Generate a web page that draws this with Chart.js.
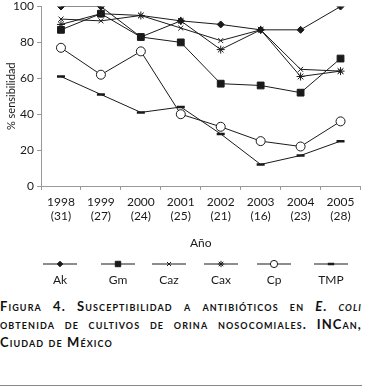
<!DOCTYPE html>
<html lang="es">
<head>
<meta charset="utf-8">
<title>Susceptibilidad a antibióticos en E. coli</title>
<script src="https://cdn.jsdelivr.net/npm/chart.js@4.4.0/dist/chart.umd.min.js"></script>
<style>
    body { margin: 0; background: #fff; width: 367px; height: 391px; position: relative; overflow: hidden; }
    #wrap { position: absolute; left: 0; top: 0; width: 367px; height: 295px; }
    #caption {
        position: absolute; left: 0; top: 297px; width: 362px;
        font-family: Lato, "Open Sans", sans-serif; font-weight: bold; font-size: 13px;
        font-variant: small-caps; line-height: 18px; color: #111;
        text-align: justify; letter-spacing: 1.1px;
    }
    #rule { position: absolute; left: 0; top: 385px; width: 362px; height: 1px; background: #888; }
</style>
</head>
<body>
<div id="wrap"><canvas id="sensibilidad_chart" width="367" height="295"></canvas></div>
<div id="caption">Figura 4. Susceptibilidad a antibióticos en <i>E. coli</i> obtenida de cultivos de orina nosocomiales. INCan, Ciudad de México</div>
<div id="rule"></div>
<script>
// años y número de cultivos por año
const years = ['1998', '1999', '2000', '2001', '2002', '2003', '2004', '2005'];
const cultivos = ['(31)', '(27)', '(24)', '(25)', '(21)', '(16)', '(23)', '(28)'];

// % de sensibilidad por antibiótico
const ak  = [100, 100, 83, 92, 90, 87, 87, 100];
const gm  = [87, 96, 83, 80, 57, 56, 52, 71];
const caz = [93, 92, 95, 88, 81, 87, 65, 64];
const cax = [90, 96, 95, 92, 76, 87, 61, 64];
const cp  = [77, 62, 75, 40, 33, 25, 22, 36];
const tmp = [61, 51, 41, 44, 29, 12, 17, 25];

const yTicks = [0, 20, 40, 60, 80, 100];
const legendX = [60, 118, 169, 221, 274, 331];

document.addEventListener('DOMContentLoaded', function () {
    const ctx = document.getElementById('sensibilidad_chart').getContext('2d');
    const ink = '#1a1a1a';
    const font = 'Lato, "Open Sans", sans-serif';

    function serie(label, data, style, radius, extra) {
        return Object.assign({
            label: label,
            data: data,
            borderColor: ink,
            backgroundColor: ink,
            borderWidth: 1,
            pointStyle: style,
            pointRadius: radius,
            pointBorderColor: ink,
            pointBackgroundColor: ink,
            pointBorderWidth: 1,
            tension: 0
        }, extra || {});
    }

    // leyenda propia: línea con el marcador al centro y el nombre debajo
    const lineLegend = {
        id: 'lineLegend',
        afterDraw(chart) {
            const c = chart.ctx;
            const y = 264;
            chart.data.datasets.forEach(function (ds, i) {
                const cx = legendX[i];
                c.save();
                c.strokeStyle = ink;
                c.lineWidth = 1.2;
                c.beginPath();
                c.moveTo(cx - 17, y);
                c.lineTo(cx + 17, y);
                c.stroke();
                c.fillStyle = ds.pointBackgroundColor;
                c.strokeStyle = ds.pointBorderColor;
                c.lineWidth = ds.pointBorderWidth;
                Chart.helpers.drawPoint(c, {
                    pointStyle: ds.pointStyle,
                    radius: ds.pointRadius * 0.8,
                    rotation: 0,
                    borderWidth: ds.pointBorderWidth
                }, cx, y);
                c.fillStyle = ink;
                c.font = '12px ' + font;
                c.textAlign = 'center';
                c.textBaseline = 'middle';
                c.fillText(ds.label, cx, y + 16);
                c.restore();
            });
        }
    };

    new Chart(ctx, {
        type: 'line',
        data: {
            labels: years.map(function (y, i) { return [y, cultivos[i]]; }),
            datasets: [
                serie('Ak', ak, 'rectRot', 3.5),
                serie('Gm', gm, 'rect', 4.8),
                serie('Caz', caz, 'crossRot', 3.5),
                serie('Cax', cax, 'star', 4),
                serie('Cp', cp, 'circle', 4.5, { pointBackgroundColor: '#fff' }),
                serie('TMP', tmp, 'line', 4, { pointBorderWidth: 2.5 })
            ]
        },
        options: {
            responsive: false,
            animation: false,
            layout: { padding: { left: 0, right: 4, top: 4, bottom: 41 } },
            plugins: {
                legend: { display: false },
                tooltip: { enabled: false }
            },
            scales: {
                x: {
                    offset: true,
                    grid: { offset: true, drawOnChartArea: false, tickLength: 4, color: '#999' },
                    border: { color: '#999' },
                    ticks: { color: ink, font: { family: font, size: 12 }, maxRotation: 0, autoSkip: false, padding: 5 },
                    title: { display: true, text: 'Año', color: ink, font: { family: font, size: 12 }, padding: { top: 0, bottom: 4 } },
                    afterFit: function (s) { s.height = 68; s.paddingLeft = 0; s.paddingRight = 0; }
                },
                y: {
                    min: 0,
                    max: 100,
                    afterBuildTicks: function (s) { s.ticks = yTicks.map(function (v) { return { value: v }; }); },
                    grid: { drawOnChartArea: false, tickLength: 4, color: '#999' },
                    border: { color: '#999' },
                    ticks: { color: ink, font: { family: font, size: 12 }, padding: 3 },
                    title: { display: true, text: '% sensibilidad', color: ink, font: { family: font, size: 11 }, padding: { top: 5, bottom: 0 } },
                    afterFit: function (s) { s.width = 41; s.paddingTop = 0; s.paddingBottom = 0; }
                }
            }
        },
        plugins: [lineLegend]
    });
});
</script>
</body>
</html>
